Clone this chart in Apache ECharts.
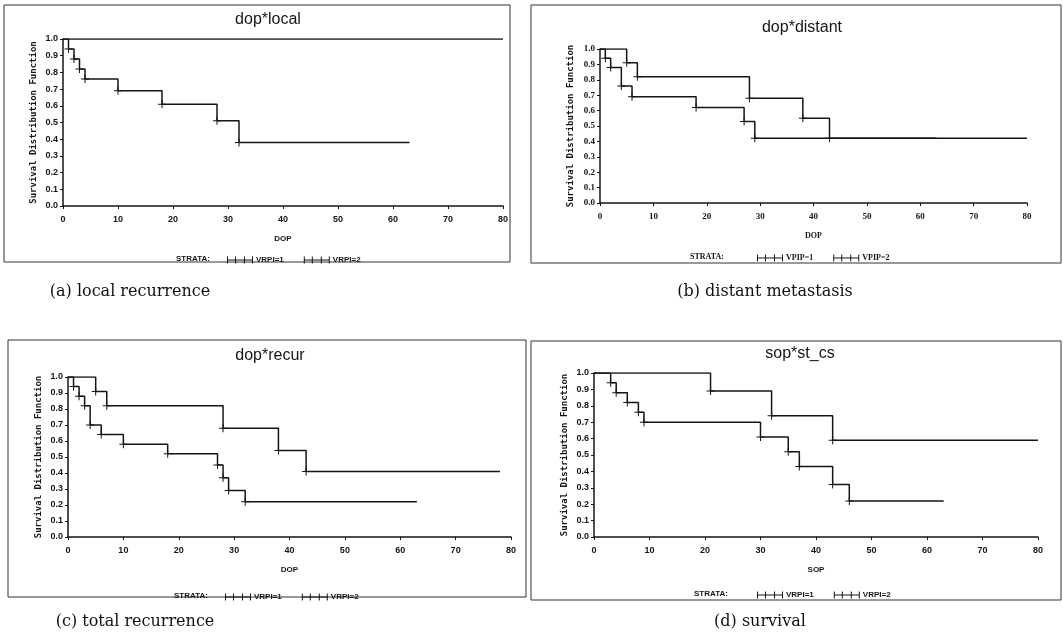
<!DOCTYPE html>
<html>
<head>
<meta charset="utf-8">
<title>Kaplan-Meier curves</title>
<script src="https://cdn.jsdelivr.net/npm/echarts@6/dist/echarts.min.js"></script>
<style>
  html, body { margin: 0; padding: 0; background: #fff; }
  #chart { width: 1063px; height: 644px; }
</style>
</head>
<body>
<div id="chart"></div>
<script>
  // x-axis ticks (months) and y-axis ticks, shared by the four panels
  const xTicks = [0, 10, 20, 30, 40, 50, 60, 70, 80];
  const yTicks = [0, 0.1, 0.2, 0.3, 0.4, 0.5, 0.6, 0.7, 0.8, 0.9, 1.0];

  // (a) dop*local
  const timeA1 = [0, 80];
  const survA1 = [1, 1];
  const timeA2 = [0, 1, 2, 3, 4, 10, 18, 28, 32, 63];
  const survA2 = [1, 0.94, 0.88, 0.82, 0.76, 0.69, 0.61, 0.51, 0.38, 0.38];

  // (b) dop*distant
  const timeB1 = [0, 5, 7, 28, 38, 43, 80];
  const survB1 = [1, 0.91, 0.82, 0.68, 0.55, 0.42, 0.42];
  const timeB2 = [0, 1, 2, 4, 6, 18, 27, 29, 63];
  const survB2 = [1, 0.94, 0.88, 0.76, 0.69, 0.62, 0.53, 0.42, 0.42];

  // (c) dop*recur
  const timeC1 = [0, 5, 7, 28, 38, 43, 78];
  const survC1 = [1, 0.91, 0.82, 0.68, 0.54, 0.41, 0.41];
  const timeC2 = [0, 1, 2, 3, 4, 6, 10, 18, 27, 28, 29, 32, 63];
  const survC2 = [1, 0.94, 0.88, 0.82, 0.70, 0.64, 0.58, 0.52, 0.45, 0.37, 0.29, 0.22, 0.22];

  // (d) sop*st_cs
  const timeD1 = [0, 21, 32, 43, 80];
  const survD1 = [1, 0.89, 0.74, 0.59, 0.59];
  const timeD2 = [0, 3, 4, 6, 8, 9, 30, 35, 37, 43, 46, 63];
  const survD2 = [1, 0.94, 0.88, 0.82, 0.76, 0.70, 0.61, 0.52, 0.43, 0.32, 0.22, 0.22];

  const titles = ['dop*local', 'dop*distant', 'dop*recur', 'sop*st_cs'];
  const xNames = ['DOP', 'DOP', 'DOP', 'SOP'];
  const strata = [
    ['VRPI=1', 'VRPI=2'],
    ['VPIP=1', 'VPIP=2'],
    ['VRPI=1', 'VRPI=2'],
    ['VRPI=1', 'VRPI=2']
  ];
  const captions = ['(a) local recurrence', '(b) distant metastasis', '(c) total recurrence', '(d) survival'];

  const ink = '#151515';
  const plusMark = 'path://M3.5,0h1v8h-1z M0,3.5h8v1h-8z';
  const legendIcon = 'path://M0,3h26v1h-26z M0,0h1v7h-1z M8,0h1v7h-1z M17,0h1v7h-1z M25,0h1v7h-1z';

  // plot areas: where x=0..80 and y=0..1 sit on the page
  const grids = [
    { left: 63, top: 39, width: 440, height: 167 },
    { left: 600, top: 49, width: 427, height: 154 },
    { left: 68, top: 377, width: 443, height: 160 },
    { left: 594, top: 373, width: 444, height: 164 }
  ];
  // outer frame of each panel
  const frames = [
    { x: 4, y: 5, width: 506, height: 257 },
    { x: 531, y: 5, width: 530, height: 258 },
    { x: 8, y: 340, width: 518, height: 257 },
    { x: 531, y: 341, width: 530, height: 259 }
  ];
  const titlePos = [[263, 7], [797, 15], [265, 343], [795, 341]];
  const legendPos = [[222, 251], [752, 249], [220, 588], [752, 586]];
  const strataPos = [[176, 259], [690, 257], [174, 596], [694, 594]];
  const captionPos = [[130, 292], [765, 292], [135, 622], [760, 622]];

  // panel (b) was printed with a serif face
  const tickFonts = ['Liberation Sans', 'Liberation Serif', 'Liberation Sans', 'Liberation Sans'];

  function pairs(t, s) {
    return t.map((v, i) => [v, s[i]]);
  }

  function kmSeries(name, t, s, idx) {
    let last = t.length - 1;
    return {
      name: name,
      type: 'line',
      xAxisIndex: idx,
      yAxisIndex: idx,
      step: 'end',
      data: pairs(t, s),
      symbol: plusMark,
      symbolSize: (val, params) => (params.dataIndex === 0 || params.dataIndex === last) ? 0 : 8,
      showAllSymbol: true,
      lineStyle: { color: ink, width: 1.5 },
      itemStyle: { color: ink },
      emphasis: { disabled: true },
      animation: false
    };
  }

  let chart = echarts.init(document.getElementById('chart'));

  let xAxes = [], yAxes = [], legends = [], titleList = [], graphics = [];
  grids.forEach((g, i) => {
    xAxes.push({
      type: 'value', gridIndex: i, min: xTicks[0], max: xTicks[xTicks.length - 1], interval: 10,
      name: xNames[i], nameLocation: 'middle', nameGap: 29,
      nameTextStyle: { fontFamily: tickFonts[i], fontSize: 8, fontWeight: 'bold', color: ink },
      axisLine: { show: true, lineStyle: { color: ink, width: 1.5 } },
      axisTick: { show: true, length: 3, lineStyle: { color: ink } },
      splitLine: { show: false },
      axisLabel: { fontFamily: tickFonts[i], fontSize: 9, fontWeight: 'bold', color: ink, margin: 9 }
    });
    yAxes.push({
      type: 'value', gridIndex: i, min: yTicks[0], max: yTicks[yTicks.length - 1], interval: 0.1,
      name: 'Survival Distribution Function', nameLocation: 'middle', nameGap: 25,
      nameTextStyle: { fontFamily: 'DejaVu Sans Mono', fontSize: 9, fontWeight: 'bold', color: ink },
      axisLine: { show: true, lineStyle: { color: ink, width: 1.5 } },
      axisTick: { show: true, length: 3, lineStyle: { color: ink } },
      splitLine: { show: false },
      axisLabel: {
        fontFamily: tickFonts[i], fontSize: 9, fontWeight: 'bold', color: ink, margin: 5,
        formatter: v => v.toFixed(1)
      }
    });
    legends.push({
      data: strata[i], left: legendPos[i][0], top: legendPos[i][1],
      icon: legendIcon, itemWidth: 26, itemHeight: 7, itemGap: 20,
      selectedMode: false,
      textStyle: { fontFamily: tickFonts[i], fontSize: 8, fontWeight: 'bold', color: ink, padding: [0, 0, 0, -2] }
    });
    titleList.push({
      text: titles[i], left: titlePos[i][0], top: titlePos[i][1], textAlign: 'center',
      textStyle: { fontFamily: 'Liberation Sans', fontSize: 16, fontWeight: 'normal', color: ink }
    });
    graphics.push({
      type: 'rect', shape: frames[i], silent: true,
      style: { fill: 'none', stroke: '#333', lineWidth: 1 }
    });
    graphics.push({
      type: 'text', x: strataPos[i][0], y: strataPos[i][1], silent: true,
      style: {
        text: 'STRATA:', fill: ink, fontFamily: tickFonts[i], fontSize: 8, fontWeight: 'bold',
        verticalAlign: 'middle'
      }
    });
    graphics.push({
      type: 'text', x: captionPos[i][0], y: captionPos[i][1], silent: true,
      style: {
        text: captions[i], fill: '#111', fontFamily: 'DejaVu Serif', fontSize: 16,
        align: 'center', verticalAlign: 'middle'
      }
    });
  });

  let option = {
    backgroundColor: '#fff',
    animation: false,
    title: titleList,
    grid: grids,
    xAxis: xAxes,
    yAxis: yAxes,
    legend: legends,
    graphic: graphics,
    series: [
      kmSeries(strata[0][0], timeA1, survA1, 0),
      kmSeries(strata[0][1], timeA2, survA2, 0),
      kmSeries(strata[1][0], timeB1, survB1, 1),
      kmSeries(strata[1][1], timeB2, survB2, 1),
      kmSeries(strata[2][0], timeC1, survC1, 2),
      kmSeries(strata[2][1], timeC2, survC2, 2),
      kmSeries(strata[3][0], timeD1, survD1, 3),
      kmSeries(strata[3][1], timeD2, survD2, 3)
    ]
  };
  chart.setOption(option);
</script>
</body>
</html>
